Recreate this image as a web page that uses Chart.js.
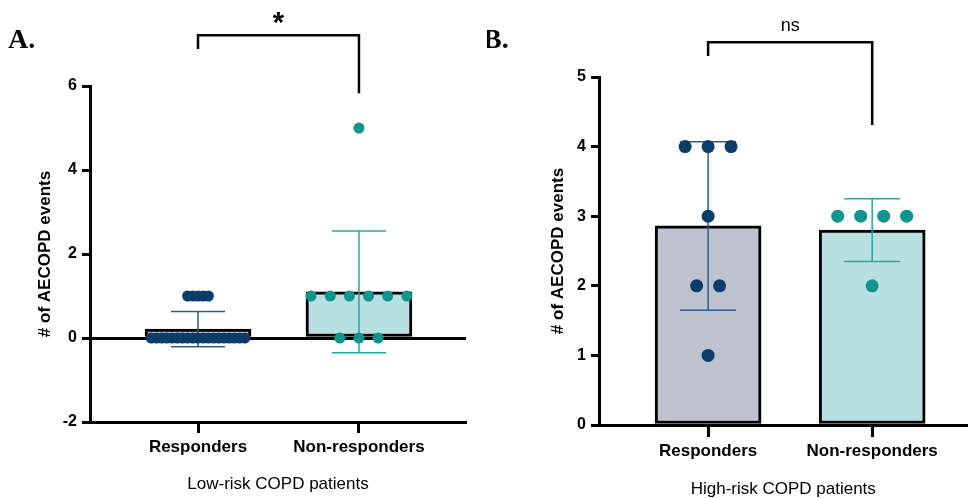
<!DOCTYPE html>
<html>
<head>
<meta charset="utf-8">
<script src="https://cdn.jsdelivr.net/npm/chart.js@4"></script>
<style>
  html, body { margin: 0; padding: 0; background: #fff; }
  #wrap { position: relative; width: 974px; height: 498px; }
  canvas { position: absolute; top: 0; }
  #chartA { left: 0; }
  #chartB { left: 487px; }
</style>
</head>
<body>
<div id="wrap">
  <canvas id="chartA" width="487" height="498"></canvas>
  <canvas id="chartB" width="487" height="498"></canvas>
</div>
<script>
// data
var categories = ["Responders", "Non-responders"];

var lowResponders = [0, 0, 0, 0, 0, 0, 0, 0, 0, 0, 0, 0, 0, 0, 0, 0, 0, 0, 0, 1, 1, 1, 1, 1];
var lowNonResponders = [5, 1, 1, 1, 1, 1, 1, 0, 0, 0];
var lowMeans = [0.21, 1.1];
var lowSD = [0.42, 1.45];
var lowTicks = [-2, 0, 2, 4, 6];

var highResponders = [4, 4, 4, 3, 2, 2, 1];
var highNonResponders = [3, 3, 3, 3, 2];
var highMeans = [2.86, 2.8];
var highSD = [1.21, 0.45];
var highTicks = [0, 1, 2, 3, 4, 5];

var navy = "#0a3d6b";
var teal = "#0f948f";
var greyFill = "#bec1ce";
var tealFill = "#b9e0e0";
var navyErr = "#2a5d89";
var tealErr = "#2ba5a1";

// spread points with equal values side by side around the category
function swarm(values, center, spacing) {
  var counts = {}, seen = {};
  values.forEach(function (v) { counts[v] = (counts[v] || 0) + 1; });
  return values.map(function (v) {
    seen[v] = (seen[v] || 0) + 1;
    return { x: center + (seen[v] - 1 - (counts[v] - 1) / 2) * spacing, y: v };
  });
}

function errorBarPlugin(means, sds, colors, cap) {
  return {
    id: "errorBars",
    afterDatasetDraw: function (chart, args) {
      if (args.index !== 0) return;
      var ctx = chart.ctx, xs = chart.scales.x, ys = chart.scales.y;
      means.forEach(function (m, i) {
        var x = xs.getPixelForValue(i + 1);
        var top = ys.getPixelForValue(m + sds[i]);
        var bot = ys.getPixelForValue(m - sds[i]);
        ctx.save();
        ctx.strokeStyle = colors[i];
        ctx.lineWidth = 1.5;
        ctx.beginPath();
        ctx.moveTo(x, top); ctx.lineTo(x, bot);
        ctx.moveTo(x - cap, top); ctx.lineTo(x + cap, top);
        ctx.moveTo(x - cap, bot); ctx.lineTo(x + cap, bot);
        ctx.stroke();
        ctx.restore();
      });
    }
  };
}

function annotPlugin(o) {
  return {
    id: "annot",
    afterDraw: function (chart) {
      var ctx = chart.ctx, xs = chart.scales.x, ys = chart.scales.y;
      var x1 = xs.getPixelForValue(1), x2 = xs.getPixelForValue(2);
      ctx.save();
      ctx.fillStyle = "#000";
      ctx.font = "bold 28px 'Liberation Serif'";
      ctx.textBaseline = "alphabetic";
      ctx.textAlign = "left";
      ctx.fillText(o.letter, o.letterX, o.letterY);

      ctx.strokeStyle = "#000";
      ctx.lineWidth = 2.5;
      ctx.beginPath();
      ctx.moveTo(x1, ys.getPixelForValue(o.leftEnd));
      ctx.lineTo(x1, ys.getPixelForValue(o.top));
      ctx.lineTo(x2, ys.getPixelForValue(o.top));
      ctx.lineTo(x2, ys.getPixelForValue(o.rightEnd));
      ctx.stroke();

      ctx.font = o.labelFont;
      ctx.textAlign = "center";
      ctx.textBaseline = "middle";
      ctx.fillText(o.label, (x1 + x2) / 2, ys.getPixelForValue(o.labelY));
      ctx.restore();
    }
  };
}

function makeChart(id, p) {
  var ctx = document.getElementById(id).getContext("2d");
  return new Chart(ctx, {
    type: "bar",
    data: {
      datasets: [
        {
          type: "bar",
          data: p.means.map(function (m, i) { return { x: i + 1, y: m }; }),
          backgroundColor: [greyFill, tealFill],
          borderColor: "#000",
          borderWidth: 3,
          borderSkipped: false,
          barThickness: 106,
          order: 2
        },
        {
          type: "scatter",
          data: swarm(p.responders, 1, p.spacing[0]),
          backgroundColor: navy,
          borderWidth: 0,
          pointRadius: p.radius,
          order: 1
        },
        {
          type: "scatter",
          data: swarm(p.nonResponders, 2, p.spacing[1]),
          backgroundColor: teal,
          borderWidth: 0,
          pointRadius: p.radius,
          order: 1
        }
      ]
    },
    options: {
      responsive: false,
      devicePixelRatio: 1,
      animation: false,
      events: [],
      layout: { padding: p.padding },
      plugins: { legend: { display: false }, tooltip: { enabled: false } },
      scales: {
        x: {
          type: "linear",
          offset: false,
          min: p.xMin,
          max: p.xMax,
          afterFit: function (s) { s.height = p.xHeight; },
          afterBuildTicks: function (s) {
            s.ticks = categories.map(function (c, i) { return { value: i + 1 }; });
          },
          ticks: {
            color: "#000",
            padding: 4,
            maxRotation: 0,
            autoSkip: false,
            font: { family: "'Liberation Sans'", size: 17, weight: "bold" },
            callback: function (v) { return categories[v - 1]; }
          },
          grid: { offset: false, drawOnChartArea: false, tickLength: p.xTick, tickWidth: 3, tickColor: "#000" },
          border: { color: "#000", width: 3 },
          title: {
            display: true,
            text: p.xTitle,
            color: "#000",
            padding: { top: 0, bottom: p.xTitlePad },
            font: { family: "'Liberation Sans'", size: 17 }
          }
        },
        y: {
          min: p.ticks[0],
          max: p.ticks[p.ticks.length - 1],
          afterFit: function (s) { s.width = p.yWidth; },
          ticks: {
            stepSize: p.ticks[1] - p.ticks[0],
            color: "#000",
            padding: 5,
            font: { family: "'Liberation Sans'", size: 16, weight: "bold" }
          },
          grid: {
            color: function (c) { return c.tick && c.tick.value === 0 && p.zeroLine ? "#000" : "rgba(0,0,0,0)"; },
            lineWidth: 3,
            tickLength: 8,
            tickWidth: 3,
            tickColor: "#000"
          },
          border: { color: "#000", width: 3 },
          title: {
            display: true,
            text: "# of AECOPD events",
            color: "#000",
            padding: { top: p.yTitlePad, bottom: 0 },
            font: { family: "'Liberation Sans'", size: 17, weight: "bold" }
          }
        }
      }
    },
    plugins: [
      errorBarPlugin(p.means, p.sd, [navyErr, tealErr], p.cap),
      annotPlugin(p.annot)
    ]
  });
}

makeChart("chartA", {
  responders: lowResponders,
  nonResponders: lowNonResponders,
  means: lowMeans,
  sd: lowSD,
  ticks: lowTicks,
  spacing: [0.0323, 0.119],
  radius: 5.5,
  padding: { top: 86, right: 21, left: 0, bottom: 0 },
  xMin: 0.329, xMax: 2.665,
  xHeight: 76, xTick: 11, xTitlePad: 3,
  yWidth: 90, yTitlePad: 35,
  xTitle: "Low-risk COPD patients",
  zeroLine: true,
  cap: 27,
  annot: { letter: "A.", letterX: 8, letterY: 48, top: 7.21, leftEnd: 6.88, rightEnd: 5.83,
           label: "*", labelFont: "bold 29px 'Liberation Sans'", labelY: 7.47 }
});

makeChart("chartB", {
  responders: highResponders,
  nonResponders: highNonResponders,
  means: highMeans,
  sd: highSD,
  ticks: highTicks,
  spacing: [0.14, 0.14],
  radius: 6.5,
  padding: { top: 77, right: 0, left: 0, bottom: 0 },
  xMin: 0.335, xMax: 2.581,
  xHeight: 73, xTick: 12, xTitlePad: -2,
  yWidth: 112, yTitlePad: 61,
  xTitle: "High-risk COPD patients",
  zeroLine: false,
  cap: 28,
  annot: { letter: "B.", letterX: -4, letterY: 48, top: 5.5, leftEnd: 5.3, rightEnd: 4.31,
           label: "ns", labelFont: "18px 'Liberation Sans'", labelY: 5.73 }
});
</script>
</body>
</html>
